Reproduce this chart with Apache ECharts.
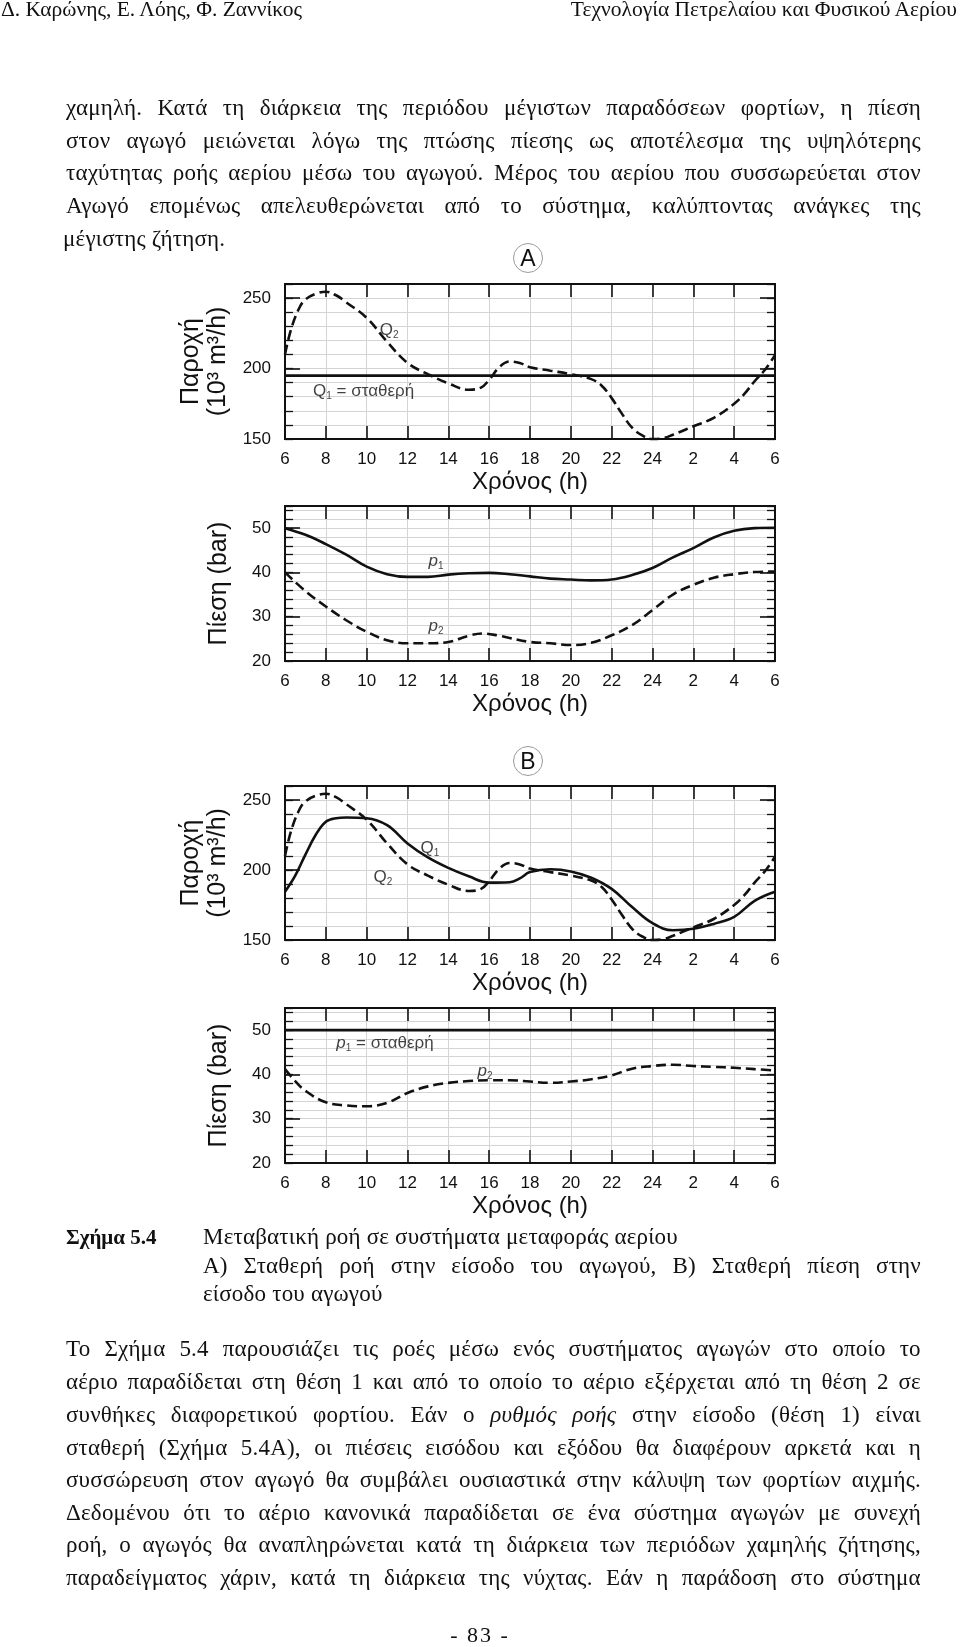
<!DOCTYPE html>
<html>
<head>
<meta charset="utf-8">
<script src="https://cdn.jsdelivr.net/npm/echarts@6/dist/echarts.min.js"></script>
<style>
html,body{margin:0;padding:0;background:#fff;}
#page{position:relative;width:960px;height:1647px;overflow:hidden;background:#fff;}
#chart{position:absolute;left:0;top:0;width:960px;height:1647px;}
.t{position:absolute;font-family:'Liberation Serif','Times New Roman',serif;font-size:23px;letter-spacing:0.2px;line-height:24px;color:#111;white-space:nowrap;}
.j{display:flex;justify-content:space-between;}
.p{left:66px;width:855px;}
.c{left:203px;width:718px;}
.circ{position:absolute;width:30px;height:30px;border:1px solid #9a9a9a;border-radius:50%;box-sizing:border-box;
  font-family:'Liberation Sans',Arial,sans-serif;font-size:23px;line-height:29px;text-align:center;color:#111;background:#fff;}
</style>
</head>
<body>
<div id="page">
<div id="chart"></div>

<div class="t" style="left:1px;top:-3px;font-size:21.5px;letter-spacing:0;">Δ. Καρώνης, Ε. Λόης, Φ. Ζαννίκος</div>
<div class="t" style="right:3px;top:-3px;font-size:21.5px;letter-spacing:0;">Τεχνολογία Πετρελαίου και Φυσικού Αερίου</div>

<div class="t p j" style="top:96px;">χαμηλή. Κατά τη διάρκεια της περιόδου μέγιστων παραδόσεων φορτίων, η πίεση</div>
<div class="t p j" style="top:129px;">στον αγωγό μειώνεται λόγω της πτώσης πίεσης ως αποτέλεσμα της υψηλότερης</div>
<div class="t p j" style="top:161px;">ταχύτητας ροής αερίου μέσω του αγωγού. Μέρος του αερίου που συσσωρεύεται στον</div>
<div class="t p j" style="top:194px;">Αγωγό επομένως απελευθερώνεται από το σύστημα, καλύπτοντας ανάγκες της</div>
<div class="t" style="left:63px;top:227px;">μέγιστης ζήτηση.</div>

<div class="circ" style="left:513px;top:243px;">Α</div>
<div class="circ" style="left:513px;top:746px;">Β</div>

<div class="t" style="left:66px;top:1225px;font-weight:bold;font-size:21px;letter-spacing:0;">Σχήμα 5.4</div>
<div class="t" style="left:203px;top:1225px;">Μεταβατική ροή σε συστήματα μεταφοράς αερίου</div>
<div class="t c j" style="top:1254px;">Α) Σταθερή ροή στην είσοδο του αγωγού, Β) Σταθερή πίεση στην</div>
<div class="t" style="left:203px;top:1282px;">είσοδο του αγωγού</div>

<div class="t p j" style="top:1337px;">Το Σχήμα 5.4 παρουσιάζει τις ροές μέσω ενός συστήματος αγωγών στο οποίο το</div>
<div class="t p j" style="top:1370px;">αέριο παραδίδεται στη θέση 1 και από το οποίο το αέριο εξέρχεται από τη θέση 2 σε</div>
<div class="t p j" style="top:1403px;">συνθήκες διαφορετικού φορτίου. Εάν ο <i>ρυθμός</i> <i>ροής</i> στην είσοδο (θέση 1) είναι</div>
<div class="t p j" style="top:1436px;">σταθερή (Σχήμα 5.4Α), οι πιέσεις εισόδου και εξόδου θα διαφέρουν αρκετά και η</div>
<div class="t p j" style="top:1468px;">συσσώρευση στον αγωγό θα συμβάλει ουσιαστικά στην κάλυψη των φορτίων αιχμής.</div>
<div class="t p j" style="top:1501px;">Δεδομένου ότι το αέριο κανονικά παραδίδεται σε ένα σύστημα αγωγών με συνεχή</div>
<div class="t p j" style="top:1533px;">ροή, ο αγωγός θα αναπληρώνεται κατά τη διάρκεια των περιόδων χαμηλής ζήτησης,</div>
<div class="t p j" style="top:1566px;">παραδείγματος χάριν, κατά τη διάρκεια της νύχτας. Εάν η παράδοση στο σύστημα</div>

<div class="t" style="left:0;width:960px;text-align:center;top:1623px;font-size:22px;letter-spacing:2px;">- 83 -</div>
</div>

<script>
// justify each line: wrap every word in its own flex item
document.querySelectorAll('.j').forEach(el => {
  const nodes = Array.from(el.childNodes);
  el.innerHTML = '';
  nodes.forEach(n => {
    if (n.nodeType === 3) {
      n.textContent.split(/\s+/).filter(w => w).forEach(w => {
        const s = document.createElement('span');
        s.textContent = w;
        el.appendChild(s);
      });
    } else {
      el.appendChild(n);
    }
  });
});

// ---------- tick labels ----------
const xTickLabels = ['6','8','10','12','14','16','18','20','22','24','2','4','6'];
const flowTickLabels = [150, 200, 250];
const pressTickLabels = [20, 30, 40, 50];

// ---------- data (x = hours after 06:00) ----------
// Q2 – outlet flow (same in A and B)
const q2Hours = [0,0.3,0.7,1,1.5,2,2.5,3,4,5,6,7,8,9,9.6,10,10.5,11,11.5,12,13,14,15,15.5,16,16.5,17,17.5,18,18.5,19,20,21,22,22.5,23,23.5,24];
const q2Flow  = [210,228,243,249,253,254.5,252,247,236,219,204,196,189.5,185,186.5,192,201,205,204,201,198.5,196,192.5,188,179,168,158,152.5,150,150.5,153,159,165,175,182,191,199,209.5];

// A: constant inlet flow Q1
const q1AHours = [0,24];
const q1AFlow  = [195,195];

// A: pressures
const pAHours = [0,1,2,3,4,5,6,7,8,9,10,11,12,13,14,15,16,17,18,19,20,21,22,23,24];
const p1A = [50,48.5,46.4,44,41.3,39.6,39,39,39.5,39.8,39.9,39.6,39.1,38.6,38.4,38.2,38.4,39.4,41,43.4,45.5,47.9,49.4,50,50.1];
const p2AHours = [0,1,2,3,4,5,6,7,8,9,9.7,10.5,11,12,13,14,15,16,17,18,19,20,21,22,23,24];
const p2A = [40,35.8,32.3,29.2,26.6,24.7,24,24,24.3,25.7,26.2,25.7,25.2,24.3,24,23.6,24.1,25.8,28.1,31.5,35,37.2,38.8,39.6,40.1,40.2];

// B: inlet flow Q1
const q1BHours = [0,0.5,1,1.5,2,2.5,3,4,5,6,7,8,9,10,11,11.5,12,13,14,15,16,17,18,19,20,21,22,23,24];
const q1BFlow  = [184.5,196,211,225,234.5,237,237.5,237,232,219,209,201.5,195.5,191,191.3,194,198.5,200.5,199,194.5,186.5,173.5,162,157,158,161.5,166.5,178,184.5];

// B: pressures
const p1BHours = [0,24];
const p1B = [50,50];
const p2BHours = [0,0.5,1,2,3,4,5,6,7,8,9,10,11,12,13,14,15,16,17,18,19,20,21,22,23,24];
const p2B = [41.2,38.5,36.3,33.7,33,32.8,33.6,35.8,37.3,38.1,38.5,38.7,38.7,38.4,38.1,38.4,38.9,39.8,41.3,41.9,42.2,41.9,41.7,41.5,41.2,40.9];

// ---------- annotation texts ----------
const annoA1 = [['Q','2',''],['Q','1',' = σταθερή']];
const annoA2 = [['p','1',''],['p','2','']];
const annoB1 = [['Q','1',''],['Q','2','']];
const annoB2 = [['p','1',' = σταθερή'],['p','2','']];
// anchor points (hours, value) for annotations
const annoA1At = [[5.1,227],[3.85,184]];
const annoA2At = [[7.4,42.6],[7.4,27.8]];
const annoB1At = [[7.1,215.5],[4.8,195]];
const annoB2At = [[4.9,47.1],[9.8,40.8]];

// ---------- build ----------
const FONT = "'Liberation Sans', Arial, sans-serif";
const INK = '#111';
const GRIDC = '#d4d4d4';
const zip = (xs, ys) => xs.map((x, i) => [x, ys[i]]);

const grids = [
  {left:285, top:284, width:490, height:155},
  {left:285, top:506, width:490, height:155},
  {left:285, top:786, width:490, height:154},
  {left:285, top:1008, width:490, height:155}
];
const kinds = ['flow','press','flow','press'];

const xAxis = [], yAxis = [];
grids.forEach((g, i) => {
  const base = {
    type:'value', gridIndex:i, min:0, max:24, interval:2,
    axisLine:{show:true, onZero:false, lineStyle:{color:INK, width:2}},
    axisTick:{show:true, inside:true, length:13, lineStyle:{color:INK, width:1.6}},
  };
  xAxis.push(Object.assign({}, base, {
    position:'bottom',
    axisLabel:{show:true, margin:12, fontSize:17, fontFamily:FONT, color:INK,
      formatter:v => xTickLabels[Math.round(v/2)] || ''},
    splitLine:{show:true, lineStyle:{color:GRIDC, width:1}},
    name:'Χρόνος (h)', nameLocation:'middle', nameGap:31,
    nameTextStyle:{fontSize:24, fontFamily:FONT, color:INK}
  }));
  xAxis.push(Object.assign({}, base, {
    position:'top', axisLabel:{show:false}, splitLine:{show:false}
  }));
  const flow = kinds[i] === 'flow';
  const mn = flow ? 150 : 20, mx = flow ? 260 : 55;
  const majI = flow ? 50 : 10, minI = flow ? 10 : 2;
  const majLabels = flow ? flowTickLabels : pressTickLabels;
  const yb = {type:'value', gridIndex:i, min:mn, max:mx,
    axisLine:{show:true, onZero:false, lineStyle:{color:INK, width:2}}};
  // left major
  yAxis.push(Object.assign({}, yb, {
    position:'left', interval:majI,
    axisTick:{show:true, inside:true, length:15, lineStyle:{color:INK, width:1.6}},
    axisLabel:{show:true, margin:14, fontSize:17, fontFamily:FONT, color:INK,
      formatter:v => majLabels.indexOf(v) >= 0 ? String(v) : ''},
    splitLine:{show:false},
    name: flow ? 'Παροχή\n(10³ m³/h)' : 'Πίεση (bar)',
    nameLocation:'middle', nameRotate:90, nameGap:52,
    nameTextStyle:{fontSize:25, fontFamily:FONT, color:INK, lineHeight:27}
  }));
  // left minor
  yAxis.push(Object.assign({}, yb, {
    position:'left', interval:minI,
    axisTick:{show:true, inside:true, length:8, lineStyle:{color:INK, width:1.3}},
    axisLabel:{show:false},
    splitLine:{show:true, lineStyle:{color:GRIDC, width:1}}
  }));
  // right major
  yAxis.push(Object.assign({}, yb, {
    position:'right', interval:majI,
    axisTick:{show:true, inside:true, length:15, lineStyle:{color:INK, width:1.6}},
    axisLabel:{show:false}, splitLine:{show:false}
  }));
  // right minor
  yAxis.push(Object.assign({}, yb, {
    position:'right', interval:minI,
    axisTick:{show:true, inside:true, length:8, lineStyle:{color:INK, width:1.3}},
    axisLabel:{show:false}, splitLine:{show:false}
  }));
});

function line(i, xs, ys, dashed) {
  return {
    type:'line', xAxisIndex:2*i, yAxisIndex:4*i, data:zip(xs, ys),
    smooth:0.4, showSymbol:false, symbol:'none', clip:false, silent:true, z:5,
    lineStyle:{color:INK, width:2.6, type: dashed ? [10,5] : 'solid', cap:'butt'}
  };
}
function annos(i, texts, at, italic) {
  return {
    type:'scatter', xAxisIndex:2*i, yAxisIndex:4*i, silent:true, z:6,
    symbolSize:1, itemStyle:{color:'rgba(0,0,0,0)'},
    data: at.map((p, k) => ({value:p, t:texts[k]})),
    label:{show:true, position:'inside',
      formatter: prm => {
        const t = prm.data.t;
        return '{q|' + t[0] + '}{s|' + t[1] + '}' + (t[2] ? '{r|' + t[2] + '}' : '');
      },
      rich:{
        q:{fontSize:17, fontFamily:FONT, color:INK, lineHeight:20, fontStyle: italic ? 'italic' : 'normal'},
        s:{fontSize:10, fontFamily:FONT, color:INK, lineHeight:12, verticalAlign:'bottom'},
        r:{fontSize:17, fontFamily:FONT, color:INK, lineHeight:20}
      }
    }
  };
}

const series = [
  line(0, q1AHours, q1AFlow, false),
  line(0, q2Hours, q2Flow, true),
  annos(0, annoA1, annoA1At, false),
  line(1, pAHours, p1A, false),
  line(1, p2AHours, p2A, true),
  annos(1, annoA2, annoA2At, true),
  line(2, q1BHours, q1BFlow, false),
  line(2, q2Hours, q2Flow, true),
  annos(2, annoB1, annoB1At, false),
  line(3, p1BHours, p1B, false),
  line(3, p2BHours, p2B, true),
  annos(3, annoB2, annoB2At, true)
];

const chart = echarts.init(document.getElementById('chart'), null, {renderer:'canvas'});
chart.setOption({
  animation:false,
  backgroundColor:'#fff',
  grid: grids.map(g => Object.assign({containLabel:false}, g)),
  xAxis, yAxis, series
});
</script>
</body>
</html>
